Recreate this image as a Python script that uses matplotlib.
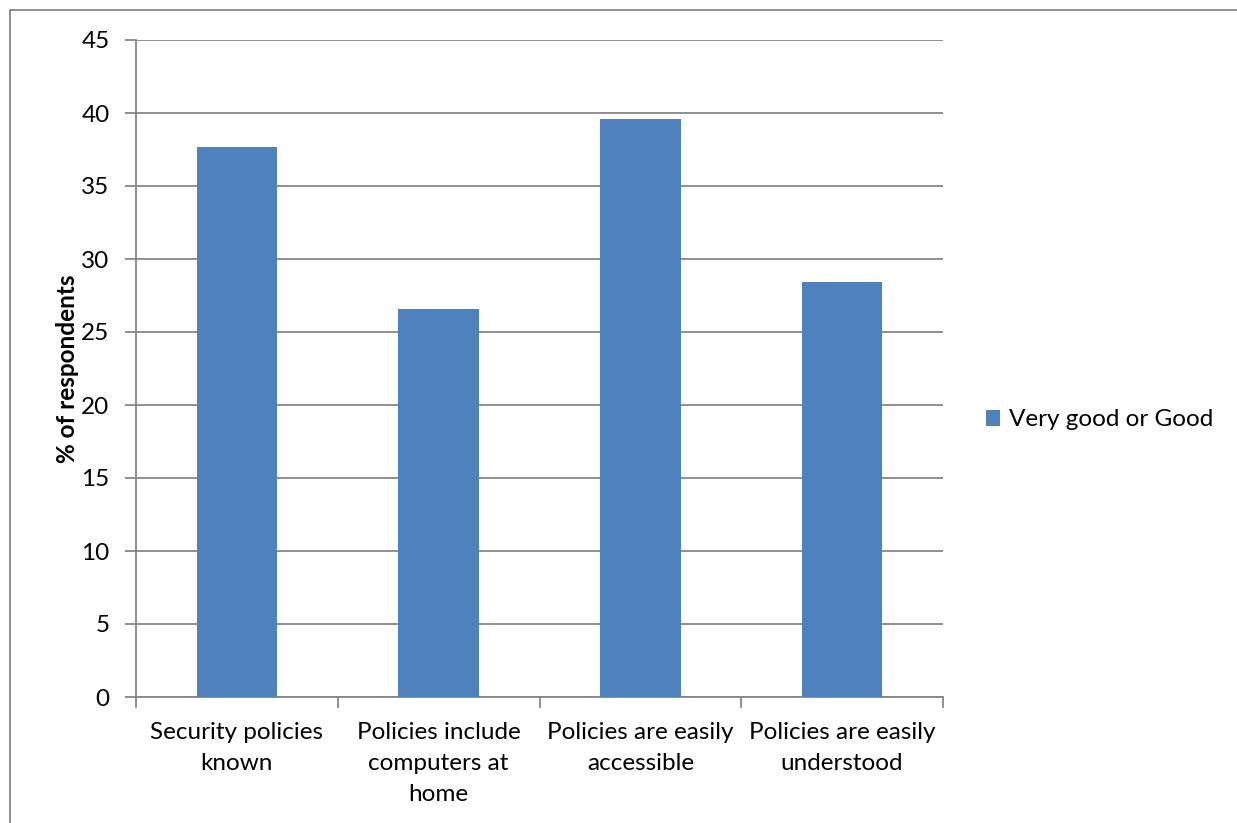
import numpy as np
import matplotlib.pyplot as plt
from matplotlib.patches import Rectangle

categories = ["Security policies\nknown", "Policies include\ncomputers at\nhome",
              "Policies are easily\naccessible", "Policies are easily\nunderstood"]
values = [37.7, 26.6, 39.6, 28.4]
series_name = "Very good or Good"
y_ticks = [0, 5, 10, 15, 20, 25, 30, 35, 40, 45]

plt.rcParams['font.family'] = ['Lato', 'DejaVu Sans']

W, H = 1237, 823
fig = plt.figure(figsize=(W / 100, H / 100), dpi=100)
ax = fig.add_axes([136 / W, 1 - 697 / H, (943 - 136) / W, (697 - 40) / H])

grid_c = "#868686"
fs = 17.5
x = np.arange(len(values))
bars = ax.bar(x, values, width=0.4, color="#4F81BD", zorder=3, label=series_name)

ax.set_xlim(-0.5, len(values) - 0.5)
ax.set_ylim(0, 45)
ax.set_yticks(y_ticks)
ax.set_yticklabels([str(v) for v in y_ticks], fontsize=fs)
ax.yaxis.grid(True, color=grid_c, linewidth=1.3, zorder=0)
ax.tick_params(axis="y", length=8, color=grid_c, width=1.3, pad=11)

# category boundary ticks
ax.set_xticks(np.arange(-0.5, len(values), 1.0))
ax.set_xticklabels([])
ax.tick_params(axis="x", which="major", length=8, color=grid_c, width=1.3, direction="out")
ax.set_xticks(x, minor=True)
ax.set_xticklabels(categories, minor=True, fontsize=fs, linespacing=1.6)
ax.tick_params(axis="x", which="minor", length=0, pad=18)

for s in ["top", "right"]:
    ax.spines[s].set_visible(False)
for s in ["left", "bottom"]:
    ax.spines[s].set_color(grid_c)
    ax.spines[s].set_linewidth(1.3)

ax.set_ylabel("% of respondents", fontsize=fs, fontweight="bold", labelpad=2)

leg = ax.legend(loc="center left", bbox_to_anchor=(964 / W, 1 - 420 / H),
                bbox_transform=fig.transFigure, frameon=False, fontsize=fs,
                handlelength=0.6, handleheight=0.6, handletextpad=0.35)

# outer chart border
fig.patches.append(Rectangle((10 / W, -0.05), 1.2, 1 - 10 / H + 0.05,
                             transform=fig.transFigure, fill=False,
                             edgecolor=grid_c, linewidth=1.3))

fig.savefig("out.png", dpi=100)
